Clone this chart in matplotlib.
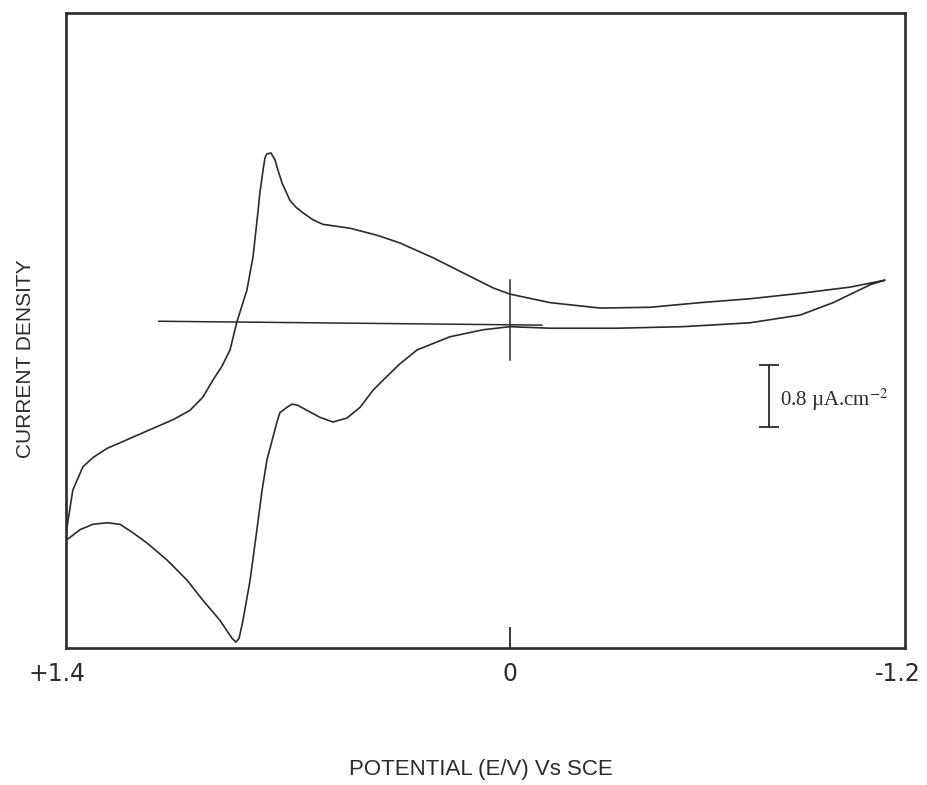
import matplotlib
matplotlib.use('Agg')
import matplotlib.pyplot as plt
import matplotlib.transforms as mtransforms

# Cyclic voltammogram: potential (V vs SCE), current density (uA/cm2)
# upper branch, from the +1.4 V end to the cathodic vertex
upper_E = [1.372, 1.369, 1.363, 1.351, 1.320, 1.289, 1.245, 1.184, 1.113, 1.041,
           0.989, 0.949, 0.918, 0.890, 0.865, 0.844, 0.813, 0.794, 0.779, 0.773,
           0.763, 0.757, 0.751, 0.738, 0.726, 0.717, 0.704, 0.680, 0.661, 0.640,
           0.609, 0.578, 0.494, 0.411, 0.340, 0.238, 0.133, 0.052, 0.000, -0.124,
           -0.279, -0.433, -0.588, -0.742, -0.897, -1.051, -1.159]
upper_j = [-2.81, -2.65, -2.49, -2.17, -1.87, -1.75, -1.63, -1.52, -1.39, -1.26,
           -1.14, -0.97, -0.75, -0.57, -0.36, 0.00, 0.41, 0.84, 1.41, 1.66,
           1.96, 2.12, 2.17, 2.18, 2.09, 1.96, 1.79, 1.57, 1.48, 1.41,
           1.32, 1.26, 1.21, 1.12, 1.02, 0.83, 0.61, 0.44, 0.36, 0.25,
           0.18, 0.19, 0.25, 0.30, 0.37, 0.45, 0.54]
# lower branch, back from the vertex to +1.4 V
lower_E = [-1.113, -0.999, -0.897, -0.742, -0.535, -0.331, -0.124, 0.000, 0.083,
           0.185, 0.287, 0.340, 0.392, 0.423, 0.463, 0.504, 0.547, 0.587, 0.627,
           0.658, 0.674, 0.689, 0.711, 0.720, 0.732, 0.751, 0.766, 0.782, 0.803,
           0.825, 0.837, 0.847, 0.859, 0.896, 0.949, 0.998, 1.060, 1.122, 1.165,
           1.205, 1.245, 1.289, 1.329, 1.366, 1.372]
lower_j = [0.48, 0.25, 0.09, -0.01, -0.06, -0.08, -0.08, -0.06, -0.10,
           -0.19, -0.36, -0.54, -0.75, -0.88, -1.10, -1.24, -1.29, -1.23, -1.14,
           -1.07, -1.06, -1.10, -1.17, -1.29, -1.48, -1.78, -2.17, -2.68, -3.33,
           -3.85, -4.08, -4.13, -4.08, -3.85, -3.59, -3.33, -3.07, -2.85, -2.72,
           -2.61, -2.59, -2.61, -2.68, -2.80, -2.81]

# zero-current reference line and the marker at 0 V
baseline_E = [1.085, -0.099]
baseline_j = [0.01, -0.04]
marker_E = [0.0, 0.0]
marker_j = [0.54, -0.49]

scale_value = 0.8          # uA/cm2 shown by the scale bar
scale_E = -0.801
scale_mid = -0.955

tick_pos = [1.4, 0, -1.2]
tick_text = ['+1.4', '0', '-1.2']

ink = '#2b2b2b'

fig = plt.figure(figsize=(9.27, 7.85), dpi=100)
ax = fig.add_axes([66 / 927, 137 / 785, 839 / 927, 635 / 785])

ax.plot(upper_E + lower_E, upper_j + lower_j, color=ink, linewidth=1.2,
        solid_joinstyle='round', solid_capstyle='round')
ax.plot(baseline_E, baseline_j, color=ink, linewidth=1.1)
ax.plot(marker_E, marker_j, color=ink, linewidth=1.1)

# scale bar
ax.errorbar([scale_E], [scale_mid], yerr=scale_value / 2, color=ink,
            elinewidth=1.3, capsize=7, capthick=1.3, fmt='none')
plt.rcParams['mathtext.fontset'] = 'stix'
ax.text(scale_E - 0.034, scale_mid - 0.05, '0.8 \u00b5A.cm$^{-2}$',
        family=['Liberation Serif', 'DejaVu Serif'], fontsize=15,
        color=ink, ha='left', va='center')

ax.set_xlim(1.372, -1.221)
ax.set_ylim(-4.206, 3.987)

for s in ax.spines.values():
    s.set_linewidth(1.9)
    s.set_color(ink)

# only the 0 V tick has a mark; the end labels sit at the corners
ax.set_xticks([0])
ax.set_xticklabels([''])
ax.tick_params(axis='x', direction='in', length=15, width=1.3, color=ink)
ax.set_yticks([])
trans = mtransforms.blended_transform_factory(ax.transData, ax.transAxes)
for p, t in zip(tick_pos, tick_text):
    ax.text(p, -0.041, t, transform=trans, ha='center', va='center',
            fontsize=17, color=ink, family='DejaVu Sans', clip_on=False)

fig.text(481 / 927, 1 - 770 / 785, 'POTENTIAL (E/V) Vs SCE', ha='center',
         va='center', fontsize=16, color=ink, family='Liberation Sans')
fig.text(26 / 927, 1 - 359 / 785, 'CURRENT DENSITY', ha='center',
         va='center', rotation=90, fontsize=15, color=ink,
         family='Liberation Sans')

fig.savefig('out.png', dpi=100)
